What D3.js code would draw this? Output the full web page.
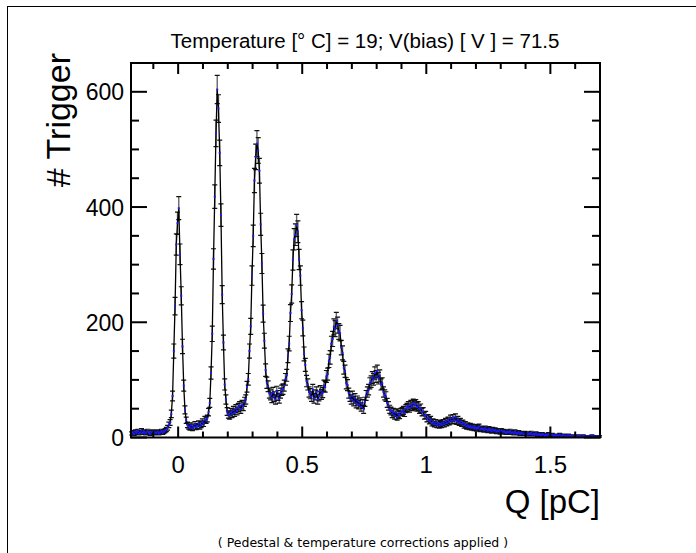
<!DOCTYPE html>
<html>
<head>
<meta charset="utf-8">
<script src="https://cdn.jsdelivr.net/npm/d3@7"></script>
<style>
  body { margin: 0; background: #fff; }
  svg { display: block; font-family: 'Liberation Sans', Arial, sans-serif; }
</style>
</head>
<body>
<div id="chart"></div>
<script>
// histogram: charge spectrum, bins of 0.005 pC from -0.19 to 1.70
const qStart = -0.19
const binWidth = 0.005
const counts = [
  // -0.19 .. -0.035
  7, 9, 6, 10, 8, 11, 7, 9, 12, 8, 10, 7, 9, 11, 8, 6, 9, 10, 7, 9, 8, 10, 7, 9, 11, 8, 10, 12, 14, 17, 22,
  // pedestal
  26, 41, 72, 150, 228, 335, 372, 398, 318, 246, 158, 90, 48, 30, 22, 19,
  17, 21, 16, 19, 23, 18, 20, 24, 19, 22, 27, 24, 31,
  // 1 p.e.
  30, 33, 44, 60, 112, 180, 310, 418, 528, 604, 571, 494, 386, 248, 165, 92, 66, 45, 40,
  38, 44, 41, 47, 43, 50, 46, 52, 55, 49, 57, 54, 62,
  // 2 p.e.
  66, 88, 101, 150, 193, 281, 350, 446, 487, 510, 498, 463, 370, 302, 215, 168, 117, 95, 89, 77,
  74, 69, 78, 71, 66, 80, 73, 68, 77, 82,
  // 3 p.e.
  84, 90, 101, 108, 142, 163, 216, 249, 308, 344, 352, 368, 357, 309, 281, 221, 190, 145, 126, 98, 92, 79,
  76, 71, 83, 68, 74, 79, 66, 72, 81, 75,
  // 4 p.e.
  78, 90, 88, 106, 110, 133, 139, 163, 171, 192, 189, 203, 195, 184, 181, 156, 147, 121, 115, 94, 91, 77, 71,
  66, 72, 63, 68, 59, 64, 57, 61, 53, 58, 49,
  // 5 p.e.
  62, 73, 79, 83, 94, 97, 104, 101, 112, 106, 115, 103, 107, 92, 94, 79, 74, 71, 60, 55, 49,
  46, 41, 44, 38, 43, 36, 41, 39, 44,
  // 6 p.e.
  45, 47, 43, 50, 52, 55, 51, 57, 54, 59, 56, 58, 53, 55, 49, 51, 44, 45, 38, 39, 33, 34, 29, 31, 25, 27, 23, 26, 22, 25, 21, 24,
  // 7 p.e.
  22, 26, 23, 28, 25, 30, 27, 33, 29, 34, 30, 35, 28, 31, 26, 28, 24, 25, 21, 23, 19, 21,
  // tail
  18, 20, 17, 19, 16, 18, 15, 17, 19, 14,
  16, 15, 13, 16, 14, 12, 15, 13, 11, 14,
  12, 13, 10, 12, 11, 9, 12, 10, 11, 9,
  8, 10, 9, 11, 8, 9, 7, 10, 8, 7,
  9, 6, 8, 7, 6, 8, 7, 5, 7, 6,
  8, 5, 6, 5, 7, 4, 6, 5, 4, 6,
  5, 3, 5, 4, 6, 3, 4, 5, 3, 4,
  2, 4, 3, 5, 2, 3, 4, 2, 3, 2,
  4, 3, 1, 3, 2, 3, 2, 1, 3, 2,
  2, 1, 3, 2, 1, 2, 2, 1, 2, 3,
  1, 2, 1, 2, 1, 2,
]

const xTickValues = [0, 0.5, 1, 1.5]
const xMinorTicks = [-0.1, 0.1, 0.2, 0.3, 0.4, 0.6, 0.7, 0.8, 0.9, 1.1, 1.2, 1.3, 1.4, 1.6]
const yTickValues = [0, 200, 400, 600]
const yMinorTicks = [50, 100, 150, 250, 300, 350, 450, 500, 550]

const titleText = 'Temperature [° C] = 19; V(bias) [ V ] = 71.5'
const xAxisLabel = 'Q [pC]'
const yAxisLabel = '# Trigger'
const footnote = '( Pedestal & temperature corrections applied )'

const width = 696
const height = 553
const frame = { left: 131, right: 600, top: 63, bottom: 437.5 }

const svg = d3
  .select('#chart')
  .append('svg')
  .attr('width', width)
  .attr('height', height)

// canvas border
svg
  .append('rect')
  .attr('x', 7.5)
  .attr('y', 6.5)
  .attr('width', width + 10)
  .attr('height', height + 10)
  .attr('fill', '#fff')
  .attr('stroke', '#000')
  .attr('stroke-width', 1)

const bins = counts.map((n, i) => ({
  x: qStart + (i + 0.5) * binWidth,
  n,
  err: Math.sqrt(n),
}))

const xScale = d3
  .scaleLinear()
  .domain([qStart, qStart + counts.length * binWidth])
  .range([frame.left, frame.right])

const yScale = d3
  .scaleLinear()
  .domain([0, 650])
  .range([frame.bottom, frame.top])

const plot = svg.append('g').attr('class', 'plot')

// error bars
const capHalf = 2.5
plot
  .append('path')
  .attr('class', 'err')
  .attr('d', bins
    .map(b => {
      const x = xScale(b.x)
      const y0 = yScale(Math.max(0, b.n - b.err))
      const y1 = Math.max(frame.top, yScale(b.n + b.err))
      return `M${x},${y0}V${y1}`
    })
    .join(''))
  .attr('stroke', '#666')
  .attr('stroke-width', 1.4)
  .attr('fill', 'none')

plot
  .append('path')
  .attr('class', 'caps')
  .attr('d', bins
    .map(b => {
      const x = xScale(b.x)
      const y0 = yScale(Math.max(0, b.n - b.err))
      const y1 = yScale(b.n + b.err)
      return `M${x - capHalf},${y0}H${x + capHalf}M${x - capHalf},${y1}H${x + capHalf}`
    })
    .join(''))
  .attr('stroke', '#111')
  .attr('stroke-width', 1.2)
  .attr('fill', 'none')

// connecting line
plot
  .append('path')
  .datum(bins)
  .attr('d', d3.line().x(b => xScale(b.x)).y(b => yScale(b.n)))
  .attr('stroke', '#000')
  .attr('stroke-width', 1.3)
  .attr('fill', 'none')

// markers
plot
  .selectAll('rect.marker')
  .data(bins)
  .join('rect')
  .attr('class', 'marker')
  .attr('x', b => xScale(b.x) - 1)
  .attr('y', b => yScale(b.n) - 1)
  .attr('width', 2)
  .attr('height', 2)
  .attr('fill', '#1a1aff')

// frame
svg
  .append('rect')
  .attr('x', frame.left)
  .attr('y', frame.top)
  .attr('width', frame.right - frame.left)
  .attr('height', frame.bottom - frame.top)
  .attr('fill', 'none')
  .attr('stroke', '#000')
  .attr('stroke-width', 2)

// ticks, drawn inwards on all four sides
function renderTicks() {
  const g = svg.append('g').attr('class', 'ticks').attr('stroke', '#000').attr('stroke-width', 2)
  const xt = [
    ...xTickValues.map(v => ({ v, len: 11 })),
    ...xMinorTicks.map(v => ({ v, len: 6 })),
  ]
  xt.forEach(t => {
    const x = xScale(t.v)
    g.append('line').attr('x1', x).attr('x2', x).attr('y1', frame.bottom).attr('y2', frame.bottom - t.len)
    g.append('line').attr('x1', x).attr('x2', x).attr('y1', frame.top).attr('y2', frame.top + t.len)
  })
  const yt = [
    ...yTickValues.map(v => ({ v, len: 16 })),
    ...yMinorTicks.map(v => ({ v, len: 8 })),
  ]
  yt.forEach(t => {
    const y = yScale(t.v)
    g.append('line').attr('y1', y).attr('y2', y).attr('x1', frame.left).attr('x2', frame.left + t.len)
    g.append('line').attr('y1', y).attr('y2', y).attr('x1', frame.right).attr('x2', frame.right - t.len)
  })
}
renderTicks()

// tick labels
svg
  .append('g')
  .selectAll('text')
  .data(xTickValues)
  .join('text')
  .attr('x', d => xScale(d))
  .attr('y', 473)
  .attr('text-anchor', 'middle')
  .style('font-size', '24px')
  .text(d => d3.format('~g')(d))

svg
  .append('g')
  .selectAll('text')
  .data(yTickValues)
  .join('text')
  .attr('x', 124)
  .attr('y', d => yScale(d) + 8.5)
  .attr('text-anchor', 'end')
  .style('font-size', '23px')
  .text(d => d)

// axis titles
svg
  .append('text')
  .attr('x', 600)
  .attr('y', 513)
  .attr('text-anchor', 'end')
  .style('font-size', '33px')
  .text(xAxisLabel)

svg
  .append('text')
  .attr('transform', 'translate(70, 53) rotate(-90)')
  .attr('text-anchor', 'end')
  .style('font-size', '34px')
  .text(yAxisLabel)

svg
  .append('text')
  .attr('x', 365)
  .attr('y', 48)
  .attr('text-anchor', 'middle')
  .style('font-size', '20.5px')
  .text(titleText)

svg
  .append('text')
  .attr('x', 363)
  .attr('y', 547)
  .attr('text-anchor', 'middle')
  .style('font-family', 'DejaVu Sans')
  .style('font-size', '12.5px')
  .text(footnote)
</script>
</body>
</html>
